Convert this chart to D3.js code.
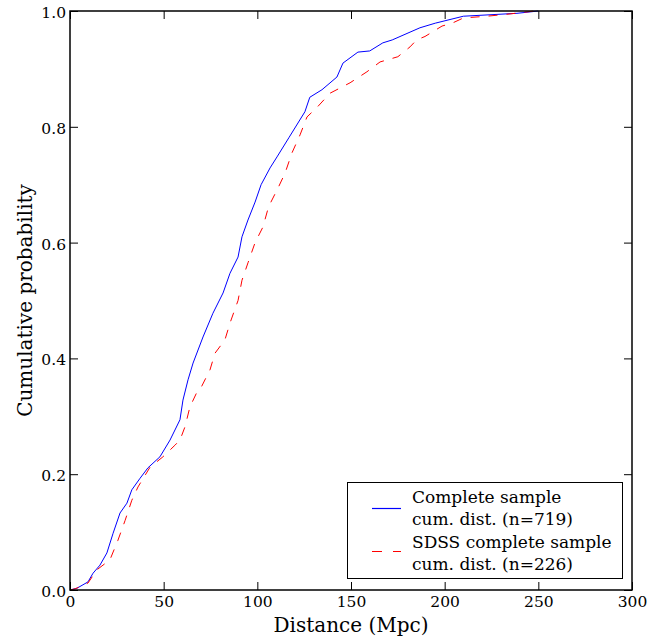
<!DOCTYPE html>
<html><head><meta charset="utf-8">
<script src="https://cdn.jsdelivr.net/npm/d3@7/dist/d3.min.js"></script>
<style>body{margin:0;background:#fff}svg{display:block}text{font-family:"DejaVu Serif",serif;fill:#000}</style>
</head><body>
<svg id="c" width="653" height="642"></svg>
<script>
const xTicks = [0, 50, 100, 150, 200, 250, 300];
const yTicks = [0.0, 0.2, 0.4, 0.6, 0.8, 1.0];
const blueX = [0,3.7,9.6,12.3,16,19.7,23,26.7,30.4,33,37.4,41.6,48,53.4,58.7,60.3,63,65.7,71,76.3,81.7,85.4,89.7,91.8,95,98.8,102,106.8,110.5,117,125.4,128,134.5,142.5,145.7,153.7,160,167,172,186.8,195,210,238.6,250];
const blueY = [0,0.003,0.014,0.029,0.043,0.064,0.098,0.133,0.15,0.173,0.193,0.211,0.23,0.259,0.294,0.328,0.363,0.392,0.437,0.478,0.513,0.547,0.575,0.61,0.639,0.67,0.7,0.729,0.748,0.782,0.826,0.851,0.864,0.886,0.91,0.929,0.931,0.945,0.95,0.971,0.979,0.991,0.996,1.0];
const redX = [0,2.7,9.6,14.4,21.3,25.6,29.4,33,36.3,42.7,49.6,56,58.7,61.4,64,67.8,70,74.7,77.4,82.7,85.4,89.7,91.8,95,98.8,103,106,111,114.8,118.5,122.8,126.5,132,138.8,149.5,158.5,165.5,175,181.5,185,189.5,198.6,204,210,222.6,235,248];
const redY = [0,0.002,0.012,0.035,0.052,0.086,0.12,0.155,0.178,0.212,0.23,0.25,0.259,0.282,0.316,0.342,0.35,0.38,0.409,0.432,0.461,0.5,0.535,0.565,0.6,0.627,0.662,0.694,0.72,0.755,0.786,0.817,0.834,0.858,0.876,0.895,0.912,0.921,0.938,0.95,0.956,0.974,0.979,0.988,0.991,0.995,1.0];
const legendLabels = [["Complete sample","cum. dist. (n=719)"],["SDSS complete sample","cum. dist. (n=226)"]];
const xLabel = "Distance (Mpc)", yLabel = "Cumulative probability";

const L = 70, R = 632, T = 11, B = 590;
const svg = d3.select("#c");
const x = d3.scaleLinear().domain([0, 300]).range([L, R]);
const y = d3.scaleLinear().domain([0, 1]).range([B, T]);

const line = d3.line().x(d => x(d[0])).y(d => y(d[1]));
const blue = blueX.map((v, i) => [v, blueY[i]]);
const red = redX.map((v, i) => [v, redY[i]]);

svg.append("path").attr("d", line(blue)).attr("fill", "none").attr("stroke", "#0000ff").attr("stroke-width", 1);
svg.append("path").attr("d", line(red)).attr("fill", "none").attr("stroke", "#ff0000").attr("stroke-width", 1).attr("stroke-dasharray", "9,9");

// axes
const fmtY = d3.format(".1f");
const gB = svg.append("g").attr("transform", `translate(0,${B})`)
  .call(d3.axisBottom(x).tickValues(xTicks).tickSize(-8).tickFormat(d3.format("d")));
const gT = svg.append("g").attr("transform", `translate(0,${T})`)
  .call(d3.axisTop(x).tickValues(xTicks).tickSize(-8).tickFormat(""));
const gL = svg.append("g").attr("transform", `translate(${L},0)`)
  .call(d3.axisLeft(y).tickValues(yTicks).tickSize(-8).tickPadding(4).tickFormat(fmtY));
const gR = svg.append("g").attr("transform", `translate(${R},0)`)
  .call(d3.axisRight(y).tickValues(yTicks).tickSize(-8).tickFormat(""));
[gB, gT, gL, gR].forEach(g => {
  g.select(".domain").remove();
  g.selectAll(".tick line").attr("stroke", "#000").attr("stroke-width", 1);
  g.selectAll("text").attr("font-family", "DejaVu Serif").attr("font-size", 15.5).attr("fill", "#000");
});
gB.selectAll("text").attr("y", 17).attr("dy", 0);
gL.selectAll("text").attr("dy", "0.42em").attr("x", -4);
svg.append("rect").attr("x", L).attr("y", T).attr("width", R - L).attr("height", B - T)
  .attr("fill", "none").attr("stroke", "#000").attr("stroke-width", 1.5);

svg.append("text").attr("x", (L + R) / 2).attr("y", 632).attr("text-anchor", "middle").attr("font-size", 20).text(xLabel);
svg.append("text").attr("transform", `translate(32,${(T + B) / 2}) rotate(-90)`).attr("text-anchor", "middle").attr("font-size", 20).text(yLabel);

// legend
const lg = svg.append("g");
lg.append("rect").attr("x", 347.5).attr("y", 482.5).attr("width", 275).attr("height", 96)
  .attr("fill", "#fff").attr("stroke", "#000").attr("stroke-width", 1);
const lgColors = ["#0000ff", "#ff0000"], lgDash = ["none", "10,11"];
legendLabels.forEach((lab, i) => {
  const cy = (i === 0 ? 508 : 551) + 0.5;
  lg.append("path").attr("d", `M372,${cy}H401`).attr("fill", "none")
    .style("stroke", lgColors[i]).style("stroke-width", "1.2px").style("stroke-dasharray", lgDash[i]);
  lab.forEach((t, j) => {
    lg.append("text").attr("x", 412).attr("y", 503 + i * 44.5 + j * 22).attr("font-size", 17).text(t);
  });
});
</script>
</body></html>
